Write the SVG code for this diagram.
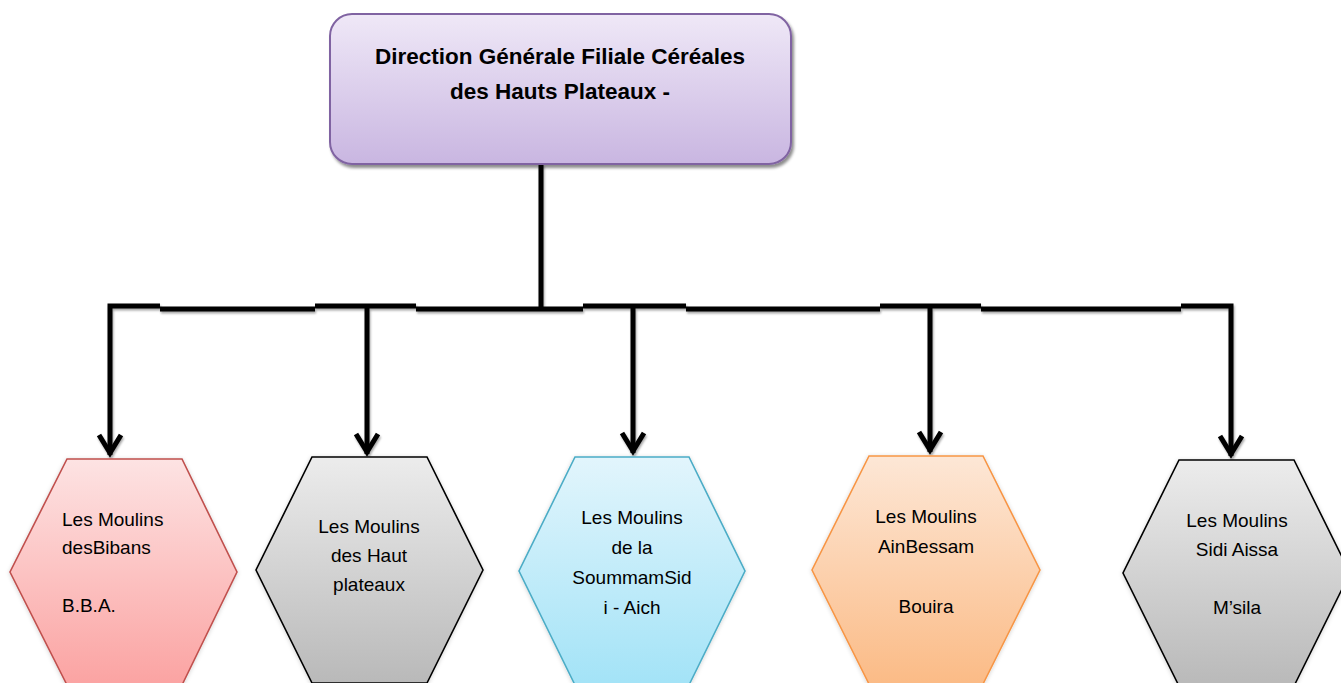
<svg xmlns="http://www.w3.org/2000/svg" width="1341" height="683" viewBox="0 0 1341 683">
<defs>
<linearGradient id="gTop" x1="0" y1="0" x2="0" y2="1"><stop offset="0" stop-color="#efe8f7"/><stop offset="1" stop-color="#c9b6e1"/></linearGradient>
<linearGradient id="gRed" x1="0" y1="0" x2="0" y2="1"><stop offset="0" stop-color="#fde3e3"/><stop offset="1" stop-color="#fba3a2"/></linearGradient>
<linearGradient id="gGrey" x1="0" y1="0" x2="0" y2="1"><stop offset="0" stop-color="#ececec"/><stop offset="1" stop-color="#b9b9b9"/></linearGradient>
<linearGradient id="gBlue" x1="0" y1="0" x2="0" y2="1"><stop offset="0" stop-color="#e2f5fc"/><stop offset="1" stop-color="#a3e3f7"/></linearGradient>
<linearGradient id="gOrange" x1="0" y1="0" x2="0" y2="1"><stop offset="0" stop-color="#fde7d6"/><stop offset="1" stop-color="#fbbb86"/></linearGradient>
<filter id="boxShadow" x="-10%" y="-10%" width="120%" height="130%"><feDropShadow dx="2" dy="3" stdDeviation="1.5" flood-color="#000" flood-opacity="0.45"/></filter>
<filter id="hexShadow" x="-10%" y="-10%" width="120%" height="120%"><feDropShadow dx="0" dy="1" stdDeviation="2" flood-color="#000" flood-opacity="0.18"/></filter>
<filter id="lineShadow" x="-5%" y="-5%" width="110%" height="120%"><feDropShadow dx="1" dy="2" stdDeviation="1" flood-color="#000" flood-opacity="0.35"/></filter>
</defs>
<style>
.title{font-family:"Liberation Sans",Arial,sans-serif;font-weight:bold;font-size:22.5px;fill:#000;text-anchor:middle}
.lbl{font-family:"Liberation Sans",Arial,sans-serif;font-size:19px;fill:#000}
.mid{text-anchor:middle}
.conn{fill:none;stroke:#000;stroke-width:5;stroke-linecap:butt;stroke-linejoin:miter}
.head{fill:none;stroke:#000;stroke-width:5;stroke-linecap:butt;stroke-linejoin:miter}
.hex{stroke-width:1.6}
</style>
<rect width="1341" height="683" fill="#fff"/>

<g id="connectors" filter="url(#lineShadow)">
<line class="conn" x1="541" y1="164" x2="541" y2="309"/>
<path class="conn" d="M110,455 V306 H160"/>
<line class="conn" x1="160" y1="309" x2="315" y2="309"/>
<line class="conn" x1="315" y1="306" x2="416" y2="306"/>
<line class="conn" x1="416" y1="309" x2="583" y2="309"/>
<line class="conn" x1="583" y1="306" x2="686" y2="306"/>
<line class="conn" x1="686" y1="309" x2="880" y2="309"/>
<line class="conn" x1="880" y1="306" x2="981" y2="306"/>
<line class="conn" x1="981" y1="309" x2="1181" y2="309"/>
<path class="conn" d="M1181,306 H1231 V456"/>
<line class="conn" x1="367" y1="306" x2="367" y2="454"/>
<line class="conn" x1="633" y1="306" x2="633" y2="453"/>
<line class="conn" x1="930" y1="306" x2="930" y2="452"/>
<polyline class="head" points="99,435 110,453 121,435"/>
<polyline class="head" points="356,434 367,452 378,434"/>
<polyline class="head" points="622,433 633,451 644,433"/>
<polyline class="head" points="919,432 930,450 941,432"/>
<polyline class="head" points="1220,436 1231,454 1242,436"/>
</g>

<g id="direction">
<rect x="330" y="14" width="461" height="150" rx="22" ry="22" fill="url(#gTop)" stroke="#8064a2" stroke-width="2" filter="url(#boxShadow)"/>
<text class="title" x="560" y="64">Direction Générale Filiale Céréales</text>
<text class="title" x="560" y="99">des Hauts Plateaux -</text>
</g>

<g id="bibans">
<polygon class="hex" points="67,459 182,459 237,572 182,685 67,685 10,572" fill="url(#gRed)" stroke="#c0504d" filter="url(#hexShadow)"/>
<text class="lbl" x="62" y="526">Les Moulins</text>
<text class="lbl" x="62" y="554">desBibans</text>
<text class="lbl" x="62" y="612">B.B.A.</text>
</g>

<g id="hautplateaux">
<polygon class="hex" points="312,457 427,457 483,570 427,683 312,683 256,570" fill="url(#gGrey)" stroke="#000" filter="url(#hexShadow)"/>
<text class="lbl mid" x="369" y="533">Les Moulins</text>
<text class="lbl mid" x="369" y="562">des Haut</text>
<text class="lbl mid" x="369" y="591">plateaux</text>
</g>

<g id="soummam">
<polygon class="hex" points="575,457 689,457 745,571 689,685 575,685 519,571" fill="url(#gBlue)" stroke="#4bacc6" filter="url(#hexShadow)"/>
<text class="lbl mid" x="632" y="524">Les Moulins</text>
<text class="lbl mid" x="632" y="554">de la</text>
<text class="lbl mid" x="632" y="584">SoummamSid</text>
<text class="lbl mid" x="632" y="614">i - Aich</text>
</g>

<g id="ainbessam">
<polygon class="hex" points="869,456 983,456 1040,570 983,684 869,684 812,570" fill="url(#gOrange)" stroke="#f79646" filter="url(#hexShadow)"/>
<text class="lbl mid" x="926" y="523">Les Moulins</text>
<text class="lbl mid" x="926" y="553">AinBessam</text>
<text class="lbl mid" x="926" y="613">Bouira</text>
</g>

<g id="sidiaissa">
<polygon class="hex" points="1179,460 1294,460 1350,573 1294,686 1179,686 1123,573" fill="url(#gGrey)" stroke="#000" filter="url(#hexShadow)"/>
<text class="lbl mid" x="1237" y="527">Les Moulins</text>
<text class="lbl mid" x="1237" y="556">Sidi Aissa</text>
<text class="lbl mid" x="1237" y="614">M’sila</text>
</g>
</svg>
